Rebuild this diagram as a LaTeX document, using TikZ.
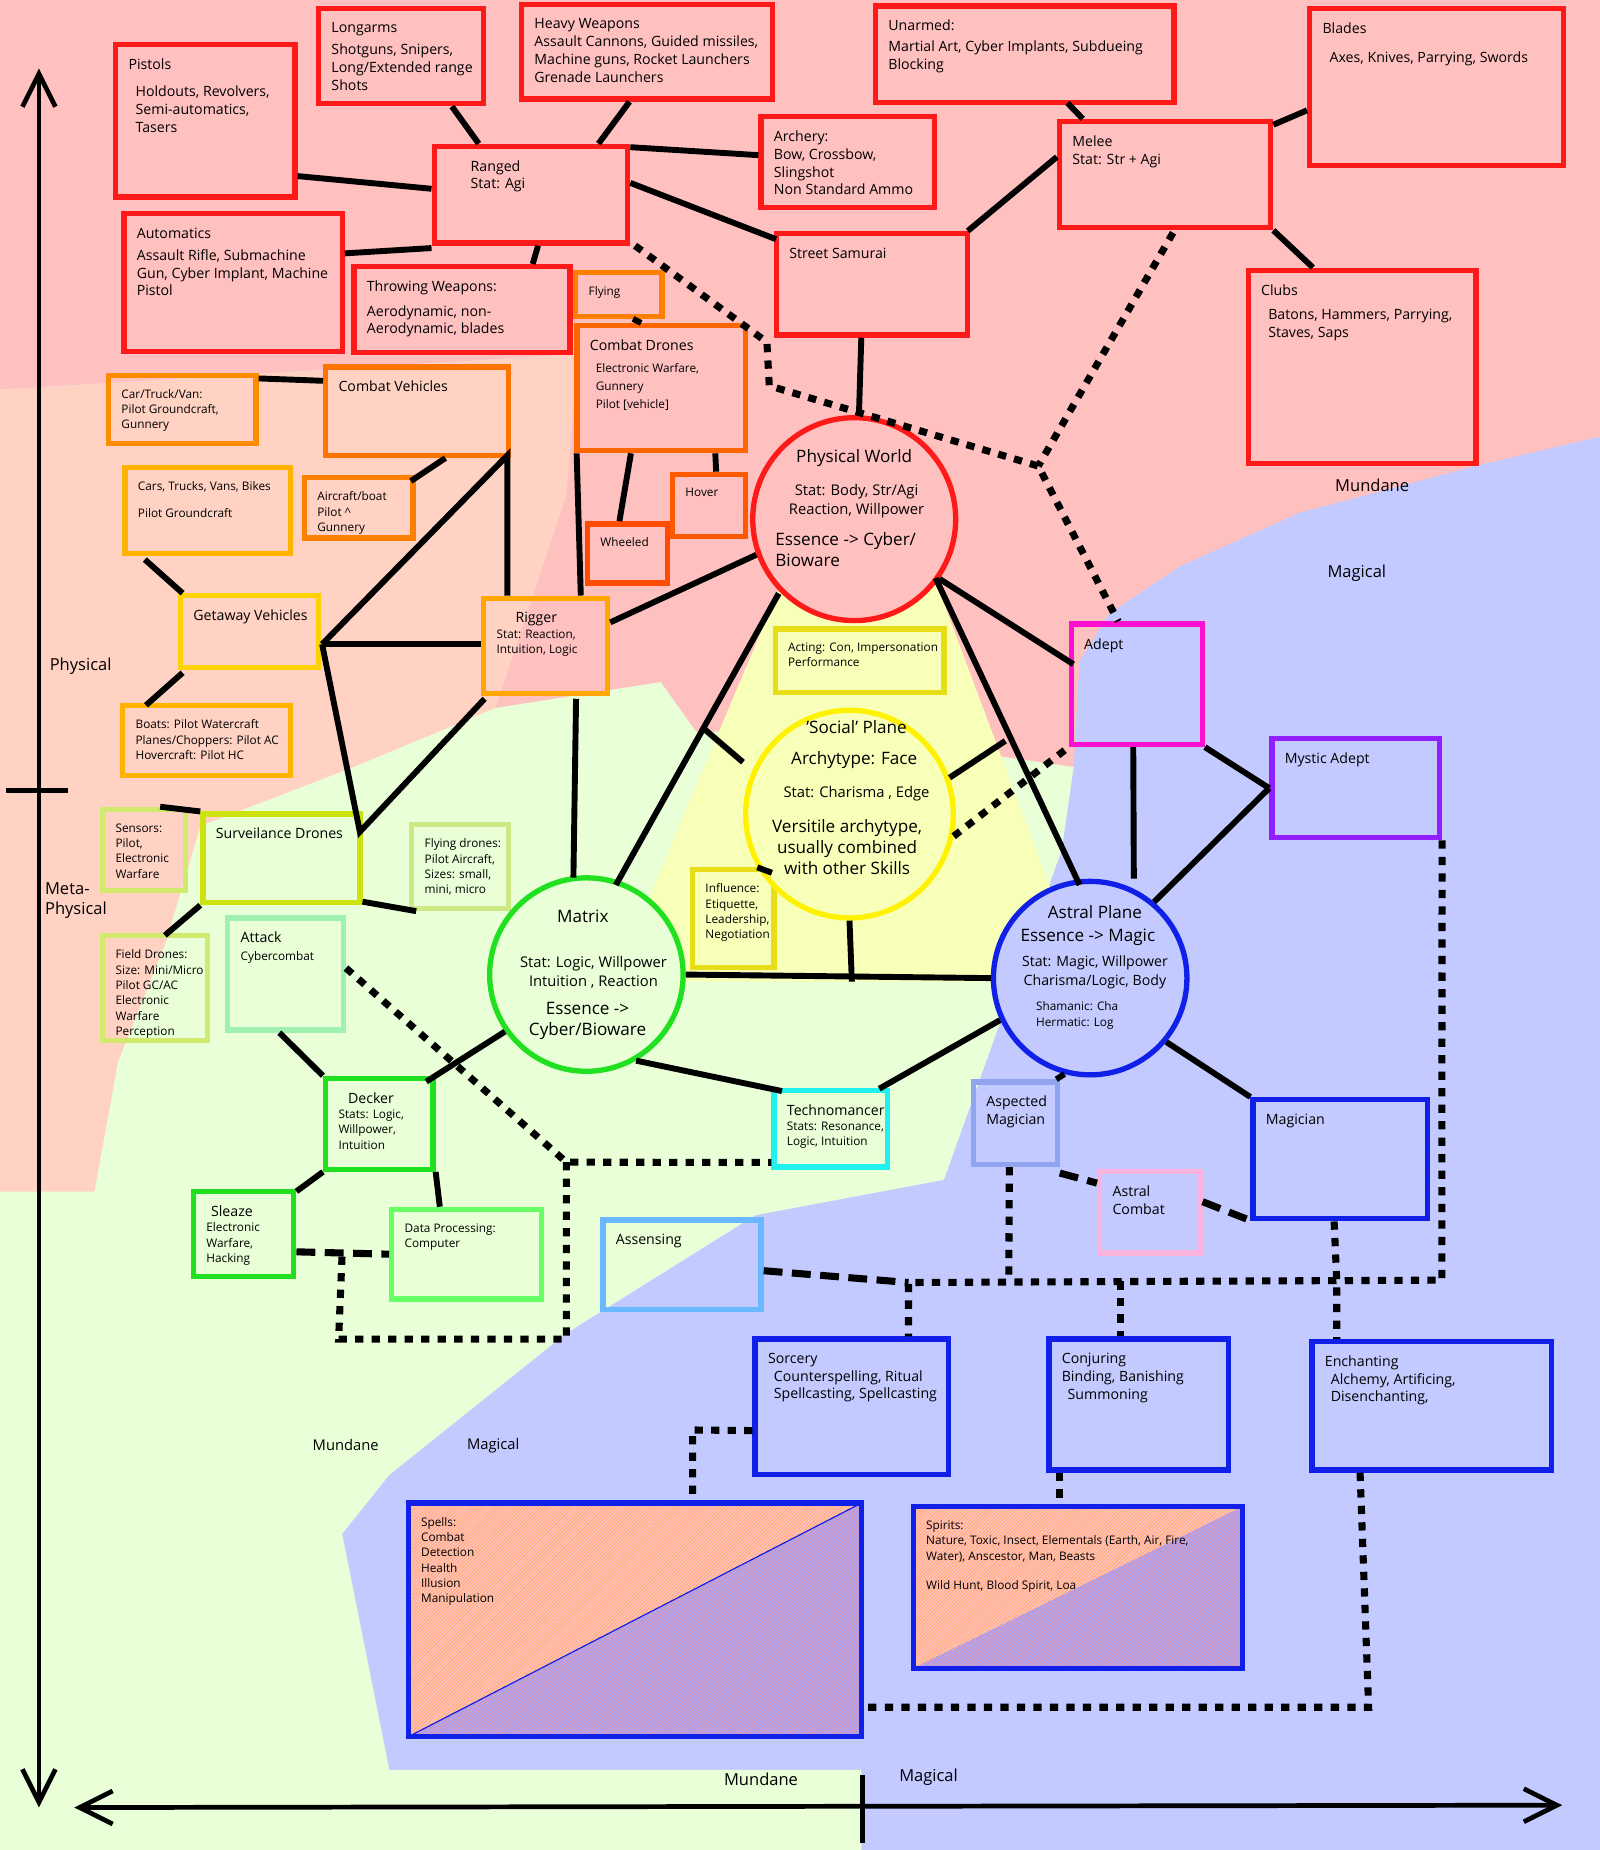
\documentclass[tikz,border=0pt]{standalone}
\usepackage{fontspec}
\setmainfont{Open Sans}
\usetikzlibrary{fit,calc,patterns,arrows.meta}
\definecolor{bgpink}{HTML}{FFC0C0}
\definecolor{bgpeach}{HTML}{FFD2C4}
\definecolor{bggreen}{HTML}{E8FFD8}
\definecolor{bgblue}{HTML}{C2CAFF}
\definecolor{bgyellow}{HTML}{F8FFB8}
\definecolor{cred}{HTML}{FF1A1A}
\definecolor{cblue}{HTML}{1020E8}
\definecolor{cgreen}{HTML}{20E020}
\definecolor{cadept}{HTML}{FF10D0}
\definecolor{cmystic}{HTML}{9020FF}
\definecolor{caspect}{HTML}{90A4F0}
\definecolor{cassens}{HTML}{6AB8FF}
\definecolor{cattack}{HTML}{A0F0B0}
\definecolor{ctechno}{HTML}{20F0F0}
\definecolor{cpurple}{HTML}{A8A0F0}
\newcommand\bx[8]{%
  \node[fit={(#2,#3)(#4,#5)},inner sep=0pt,draw=#6,line width=4.5pt] (#1) {};
  \node[anchor=north west,align=left,inner sep=0pt,font=\fontsize{#7pt}{\dimexpr #7pt+3pt\relax}\selectfont] (#1t) at ($(#1.north west)+(13,14)$) {#8};}
\tikzset{link/.style={line width=5pt,black},
  dots/.style={line width=6pt,black,dash pattern=on 7pt off 7pt},
  ldash/.style={line width=6pt,black,dash pattern=on 16pt off 8pt},
  ctext/.style={align=center,inner sep=0pt,font=\fontsize{12.5}{16}\selectfont},
  ctitle/.style={inner sep=0pt,font=\fontsize{14.5}{18}\selectfont},
  lab/.style={inner sep=0pt,font=\fontsize{14}{17}\selectfont,align=left}}
\begin{document}
\begin{tikzpicture}[x=1pt,y=-1pt]
\useasboundingbox (0,0) rectangle (1356,1568);
% backgrounds
\fill[bgblue] (0,0) rectangle (1356,1568);
\fill[bggreen] (0,560) -- (600,560) -- (910,650) -- (900,720) -- (800,1000) -- (640,1030) -- (480,1130) -- (330,1250) -- (290,1300) -- (330,1500) -- (730,1500) -- (730,1568) -- (0,1568) -- cycle;
\fill[bgpink] (0,0) -- (1356,0) -- (1356,370) -- (1250,395) -- (1100,435) -- (1000,480) -- (940,520) -- (915,560) -- (910,650) -- (700,620) -- (590,620) -- (560,578) -- (420,600) -- (490,300) -- (0,330) -- cycle;
\fill[bgpeach] (0,330) -- (490,300) -- (480,420) -- (420,600) -- (300,650) -- (170,700) -- (140,800) -- (100,900) -- (80,1010) -- (0,1010) -- cycle;
\fill[bgyellow] (660,500) -- (792,490) -- (920,832) -- (520,832) -- cycle;
% axes
\draw[line width=4pt,{Straight Barb[length=28pt,width=28pt]}-{Straight Barb[length=28pt,width=28pt]}] (33,58) -- (33,1532);
\draw[line width=4pt,{Straight Barb[length=28pt,width=28pt]}-{Straight Barb[length=28pt,width=28pt]}] (63,1532) -- (1324,1530);
\draw[line width=4pt] (5,670) -- (58,670);
\draw[line width=4pt] (731,1504) -- (731,1562);
\node[lab,anchor=west] (lphys) at (42,565) {Physical};
\node[lab,anchor=north west] (lmeta) at (38,748) {Meta-\\Physical};
\node[lab] (lm1) at (1163,411) {Mundane};
\node[lab] (lg1) at (1150,486) {Magical};
\node[lab,font=\fontsize{12.5}{15}\selectfont] (lm2) at (293,1225) {Mundane};
\node[lab,font=\fontsize{12.5}{15}\selectfont] (lg2) at (418,1225) {Magical};
\node[lab] (lm3) at (645,1508) {Mundane};
\node[lab] (lg3) at (787,1506) {Magical};
% spells / spirits fills
\fill[bgpink] (346,1274) -- (730,1274) -- (346,1472) -- cycle;
\fill[pattern=north east lines,pattern color=orange!70] (346,1274) -- (730,1274) -- (346,1472) -- cycle;
\fill[cpurple] (730,1274) -- (730,1472) -- (346,1472) -- cycle;
\fill[pattern=north east lines,pattern color=red!40] (730,1274) -- (730,1472) -- (346,1472) -- cycle;
\draw[cblue,line width=1pt] (346,1472) -- (730,1274);
\fill[bgpink] (774,1277) -- (1053,1277) -- (774,1414) -- cycle;
\fill[pattern=north east lines,pattern color=orange!70] (774,1277) -- (1053,1277) -- (774,1414) -- cycle;
\fill[cpurple] (1053,1277) -- (1053,1414) -- (774,1414) -- cycle;
\fill[pattern=north east lines,pattern color=red!40] (1053,1277) -- (1053,1414) -- (774,1414) -- cycle;
% red boxes
\bx{pistols}{98}{38}{250}{167}{cred}{12}{Pistols\\[8pt]\hspace*{6pt}Holdouts, Revolvers,\\\hspace*{6pt}Semi-automatics,\\\hspace*{6pt}Tasers}
\bx{longarms}{270}{7}{410}{88}{cred}{12}{Longarms\\[4pt]Shotguns, Snipers,\\Long/Extended range\\Shots}
\bx{heavy}{442}{4}{655}{84}{cred}{12}{Heavy Weapons\\Assault Cannons, Guided missiles,\\Machine guns, Rocket Launchers\\Grenade Launchers}
\bx{unarmed}{742}{5}{995}{87}{cred}{12}{Unarmed:\\[3pt]Martial Art, Cyber Implants, Subdueing\\Blocking}
\bx{blades}{1110}{7}{1325}{140}{cred}{12}{Blades\\[10pt]\hspace*{6pt}Axes, Knives, Parrying, Swords}
\bx{ranged}{368}{124}{532}{206}{cred}{12}{\hspace*{20pt}Ranged\\\hspace*{20pt}Stat: Agi}
\bx{archery}{645}{99}{792}{176}{cred}{12}{Archery:\\Bow, Crossbow,\\Slingshot\\Non Standard Ammo}
\bx{melee}{898}{103}{1077}{193}{cred}{12}{Melee\\Stat: Str + Agi}
\bx{automatics}{105}{181}{290}{298}{cred}{12}{Automatics\\[4pt]Assault Rifle, Submachine\\Gun, Cyber Implant, Machine\\Pistol}
\bx{throwing}{300}{226}{483}{299}{cred}{12}{Throwing Weapons:\\[6pt]Aerodynamic, non-\\Aerodynamic, blades}
\bx{samurai}{658}{198}{820}{284}{cred}{12}{Street Samurai}
\bx{clubs}{1058}{229}{1251}{393}{cred}{12}{Clubs\\[6pt]\hspace*{6pt}Batons, Hammers, Parrying,\\\hspace*{6pt}Staves, Saps}
% orange boxes
\bx{flying}{488}{231}{561}{268}{orange}{10}{Flying}
\bx{cdrones}{489}{276}{632}{382}{orange!80!red}{12}{Combat Drones\\[4pt]\fontsize{10}{13}\selectfont\hspace*{5pt}Electronic Warfare,\\\fontsize{10}{13}\selectfont\hspace*{5pt}Gunnery\\\fontsize{10}{13}\selectfont\hspace*{5pt}Pilot [vehicle]}
\bx{carvan}{92}{318}{217}{376}{orange!90!yellow}{10}{Car/Truck/Van:\\Pilot Groundcraft,\\Gunnery}
\bx{cveh}{276}{311}{431}{386}{orange!90!red}{12}{Combat Vehicles}
\bx{cars}{106}{396}{246}{469}{orange!60!yellow}{10}{Cars, Trucks, Vans, Bikes\\[10pt]Pilot Groundcraft}
\bx{aircraft}{258}{405}{350}{456}{orange}{10}{Aircraft/boat\\Pilot \textasciicircum\\Gunnery}
\bx{hover}{570}{402}{632}{455}{orange!70!red}{10}{Hover}
\bx{wheeled}{498}{444}{566}{494}{orange!60!red}{10}{Wheeled}
\bx{getaway}{153}{505}{270}{566}{yellow!70!orange}{12}{Getaway Vehicles}
\bx{rigger}{410}{507}{515}{588}{orange!70!yellow}{10}{\hspace*{16pt}{\fontsize{12}{14}\selectfont Rigger}\\Stat: Reaction,\\Intuition, Logic}
\bx{boats}{104}{598}{246}{657}{orange!60!yellow}{10}{Boats: Pilot Watercraft\\Planes/Choppers: Pilot AC\\Hovercraft: Pilot HC}
\bx{sensors}{87}{686}{157}{755}{yellow!70!green!60}{10}{Sensors:\\Pilot,\\Electronic\\Warfare}
\bx{surv}{172}{690}{305}{765}{yellow!80!green}{12}{Surveilance Drones}
\bx{flydrones}{349}{699}{431}{770}{yellow!60!green!50}{10}{Flying drones:\\Pilot Aircraft,\\Sizes: small,\\mini, micro}
\bx{field}{87}{793}{176}{882}{yellow!70!green!60}{10}{Field Drones:\\Size: Mini/Micro\\Pilot GC/AC\\Electronic\\Warfare\\Perception}
% yellow
\bx{acting}{657}{533}{800}{587}{yellow!90!black}{10}{Acting: Con, Impersonation\\Performance}
\bx{influence}{587}{737}{656}{820}{yellow!90!black}{10}{Influence:\\Etiquette,\\Leadership,\\Negotiation}
% green
\bx{attack}{193}{778}{291}{873}{cattack}{12}{Attack\\{\fontsize{10}{13}\selectfont Cybercombat}}
\bx{decker}{276}{914}{367}{991}{cgreen}{10}{\hspace*{8pt}{\fontsize{12}{14}\selectfont Decker}\\Stats: Logic,\\Willpower,\\Intuition}
\bx{sleaze}{164}{1010}{249}{1082}{cgreen}{10}{\hspace*{4pt}{\fontsize{12}{14}\selectfont Sleaze}\\Electronic\\Warfare,\\Hacking}
\bx{dataproc}{332}{1025}{459}{1101}{green!60}{10}{Data Processing:\\Computer}
\bx{techno}{656}{924}{752}{989}{ctechno}{10}{{\fontsize{12}{14}\selectfont Technomancer}\\Stats: Resonance,\\Logic, Intuition}
% blue etc
\bx{adept}{908}{529}{1019}{631}{cadept}{12}{Adept}
\bx{mystic}{1078}{626}{1220}{710}{cmystic}{12}{Mystic Adept}
\bx{aspected}{825}{917}{896}{987}{caspect}{12}{Aspected\\Magician}
\bx{astralc}{932}{993}{1017}{1062}{magenta!30}{12}{Astral\\Combat}
\bx{magician}{1062}{932}{1210}{1033}{cblue}{12}{Magician}
\bx{assensing}{511}{1034}{645}{1110}{cassens}{12}{Assensing}
\bx{sorcery}{640}{1135}{804}{1250}{cblue}{12}{Sorcery\\\hspace*{5pt}Counterspelling, Ritual\\\hspace*{5pt}Spellcasting, Spellcasting}
\bx{conjuring}{889}{1135}{1041}{1246}{cblue}{12}{Conjuring\\Binding, Banishing\\\hspace*{5pt}Summoning}
\bx{enchanting}{1112}{1137}{1315}{1246}{cblue}{12}{Enchanting\\\hspace*{5pt}Alchemy, Artificing,\\\hspace*{5pt}Disenchanting,}
\bx{spells}{346}{1274}{730}{1472}{cblue}{10}{Spells:\\Combat\\Detection\\Health\\Illusion\\Manipulation}
\bx{spirits}{774}{1277}{1053}{1414}{cblue}{10}{Spirits:\\Nature, Toxic, Insect, Elementals (Earth, Air, Fire,\\Water), Anscestor, Man, Beasts\\[12pt]Wild Hunt, Blood Spirit, Loa}
% circles
\node[circle,draw=cred,fill=bgpink,line width=4.5pt,minimum size=172pt,inner sep=0pt] (phys) at (724,440) {};
\node[circle,draw=yellow,fill=bgyellow,line width=4.5pt,minimum size=176pt,inner sep=0pt] (social) at (720,690) {};
\node[circle,draw=cgreen,fill=bggreen,line width=4.5pt,minimum size=164pt,inner sep=0pt] (matrix) at (497,826) {};
\node[circle,draw=cblue,fill=bgblue,line width=4.5pt,minimum size=164pt,inner sep=0pt] (astral) at (924,829) {};
\node[ctitle] (physa) at (724,388) {Physical World};
\node[ctext] (physb) at (726,425) {Stat: Body, Str/Agi\\Reaction, Willpower};
\node[ctitle,align=left,anchor=north west] (physc) at (657,451) {Essence -> Cyber/\\Bioware};
\node[ctitle] (sociala) at (726,616) {'Social' Plane};
\node[ctitle] (socialb) at (724,644) {Archytype: Face};
\node[ctext] (socialc) at (726,673) {Stat: Charisma , Edge};
\node[ctitle,align=center] (sociald) at (718,718) {Versitile archytype,\\usually combined\\with other Skills};
\node[ctitle] (matrixa) at (494,777) {Matrix};
\node[ctext] (matrixb) at (503,824) {Stat: Logic, Willpower\\Intuition , Reaction};
\node[ctitle,align=center] (matrixc) at (498,865) {Essence ->\\Cyber/Bioware};
\node[ctitle] (astrala) at (928,773) {Astral Plane};
\node[ctitle] (astralb) at (922,794) {Essence -> Magic};
\node[ctext,font=\fontsize{12}{15.5}\selectfont] (astralc2) at (928,824) {Stat: Magic, Willpower\\Charisma/Logic, Body};
\node[ctext,align=left,anchor=north west,font=\fontsize{10}{13}\selectfont] (astrald) at (878,849) {Shamanic: Cha\\Hermatic: Log};
% junction coordinates
\coordinate (j1) at (273,546);
\coordinate (j2) at (430,386);
\coordinate (j3) at (305,705);
\coordinate (d1) at (650,290);
\coordinate (d2) at (652,327);
\coordinate (d3) at (880,395);
\coordinate (m1) at (480,985);
\coordinate (m2) at (480,1135);
\coordinate (m3) at (287,1135);
\coordinate (m4) at (290,1062);
\coordinate (b1) at (1222,1085);
\coordinate (b2) at (770,1087);
\coordinate (b3) at (950,1086);
\coordinate (b4) at (855,1086);
\coordinate (b5) at (1133,1086);
\coordinate (s1) at (587,1212);
\coordinate (e1) at (1160,1447);
% solid links
\draw[link] ($(longarms.south)+(43,0)$) -- ($(ranged.north west)+(40,0)$);
\draw[link] ($(heavy.south)+(-15,0)$) -- ($(ranged.north east)+(-27,0)$);
\draw[link] ($(pistols.south east)+(0,-20)$) -- ($(ranged.west)+(0,-5)$);
\draw[link] ($(ranged.north east)+(0,3)$) -- ($(archery.west)+(0,-6)$);
\draw[link] ($(automatics.north east)+(0,36)$) -- ($(ranged.south west)+(0,2)$);
\draw[link] ($(throwing.north)+(60,0)$) -- ($(ranged.south)+(6,0)$);
\draw[link] ($(ranged.east)+(0,-10)$) -- ($(samurai.north west)+(2,7)$);
\draw[link] ($(samurai.north east)+(-2,0)$) -- ($(melee.west)+(0,-15)$);
\draw[link] ($(unarmed.south west)+(165,-2)$) -- ($(melee.north west)+(22,0)$);
\draw[link] ($(blades.west)+(0,20)$) -- ($(melee.north east)+(0,5)$);
\draw[link] (melee.south east) -- ($(clubs.north west)+(57,0)$);
\draw[link] ($(samurai.south)+(-9,0)$) -- ($(phys.north)+(4,0)$);
\draw[link] ($(flying.south)+(12,0)$) -- ($(cdrones.north)+(-17,0)$);
\draw[link] ($(cdrones.south west)+(48,0)$) -- ($(wheeled.north)+(-7,0)$);
\draw[link] ($(cdrones.south east)+(-28,0)$) -- ($(hover.north)+(6,0)$);
\draw[link] ($(carvan.north east)+(0,5)$) -- ($(cveh.north west)+(0,14)$);
\draw[link] ($(cveh.south)+(24,0)$) -- ($(aircraft.north east)+(-4,5)$);
\draw[link] ($(cars.south west)+(19,3)$) -- ($(getaway.north west)+(4,0)$);
\draw[link] ($(getaway.south west)+(4,2)$) -- ($(boats.north west)+(22,2)$);
\draw[link] (j1) -- (rigger.west |- j1);
\draw[link] (j1) -- (j2) -- (rigger.north west -| j2);
\draw[link] ($(cdrones.south west)+(2,0)$) -- ($(rigger.north east)+(-25,0)$);
\draw[link] (j1) -- (j3) -- ($(rigger.south west)+(3,2)$);
\draw[link] ($(rigger.east)+(0,-20)$) -- (phys.200);
\draw[link] ($(rigger.south east)+(-29,2)$) -- ($(matrix.north)+(-11,2)$);
\draw[link] ($(surv.north west)+(-34,-4)$) -- (surv.north west);
\draw[link] ($(surv.south east)+(0,-3)$) -- ($(flydrones.south west)+(6,0)$);
\draw[link] (surv.south west) -- ($(field.north west)+(55,2)$);
\draw[link] (phys.-35) -- ($(adept.west)+(4,-17)$);
\draw[link] (660,503) -- (522,750);
\draw[link] (793,490) -- (915,750);
\draw[link] (matrix.east) -- (astral.west);
\draw[link] (597,618) -- (social.west |- 646,646);
\draw[link] (social.20) -- (852,628);
\draw[link] (social.south) -- (722,832);
\draw[link] ($(influence.north east)+(-4,5)$) -- (social.-150);
\draw[link] ($(adept.south)+(-3,0)$) -- (astral.north -| 961,0);
\draw[link] (adept.south east) -- (mystic.west);
\draw[link] (mystic.west) -- (astral.50);
\draw[link] (matrix.-145) -- ($(decker.north east)+(-8,5)$);
\draw[link] (matrix.-60) -- ($(techno.north west)+(9,3)$);
\draw[link] ($(techno.north east)+(-9,1)$) -- (astral.-155);
\draw[link] (astral.-105) -- ($(aspected.north east)+(-3,0)$);
\draw[link] (astral.-40) -- (magician.north west);
\draw[link] ($(attack.south west)+(46,0)$) -- (decker.north west);
\draw[link] (decker.south west) -- ($(sleaze.north east)+(0,2)$);
\draw[link] (decker.south east) -- ($(dataproc.north west)+(43,0)$);
% dotted links
\draw[dots] ($(ranged.south east)+(4,0)$) -- (d1) -- (d2) -- (d3) -- ($(adept.north west)+(42,0)$);
\draw[dots] ($(melee.south east)+(-85,2)$) -- (d3);
\draw[dots] (social.-12) -- (adept.south west);
\draw[dots] ($(attack.east)+(0,-5)$) -- (m1) -- ($(techno.south west)+(0,-6)$);
\draw[dots] (m1) -- (m2) -- (m3) -- (m4);
\draw[ldash] ($(sleaze.east)+(0,15)$) -- (dataproc.west);
\draw[ldash] ($(aspected.south east)+(0,5)$) -- ($(astralc.north west)+(0,12)$);
\draw[ldash] ($(astralc.east)+(0,-9)$) -- ($(magician.south west)+(2,0)$);
\draw[dots] ($(aspected.south)+(-5,0)$) -- (b4);
\draw[dots] ($(magician.south west)+(71,0)$) -- (b5) -- (enchanting.north west -| b5);
\draw[dots] (mystic.south east) -- (b1) -- (b2) -- (sorcery.north west -| b2);
\draw[dots] (b3) -- (conjuring.north west -| b3);
\draw[ldash] ($(assensing.east)+(0,5)$) -- (b2);
\draw[dots] ($(sorcery.west)+(0,20)$) -- (s1) -- (spells.north west -| s1);
\draw[dots] ($(conjuring.south west)+(11,0)$) -- ($(spirits.north west)+(126,0)$);
\draw[dots] ($(enchanting.south west)+(43,0)$) -- (e1) -- (spells.east |- e1);
\end{tikzpicture}
\end{document}
